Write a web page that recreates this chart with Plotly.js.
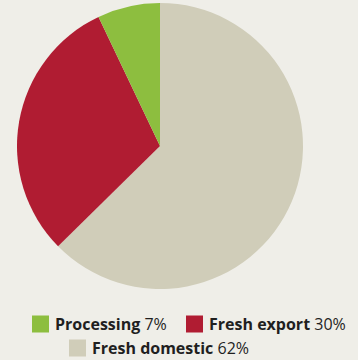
<!DOCTYPE html>
<html>
<head>
<meta charset="utf-8">
<script src="https://cdn.plot.ly/plotly-3.0.1.min.js"></script>
<style>html,body{margin:0;padding:0;background:#efeee8;}#chart{width:358px;height:360px;}</style>
</head>
<body>
<div id="chart"></div>
<script>
// Data
const labels = ["Fresh domestic", "Fresh export", "Processing"];
const values = [62, 30, 7];
const colors = ["#d0cdb9", "#b01c32", "#8dbe3f"];
// Legend order and rows
const legendOrder = [2, 1, 0];

const W = 358, H = 360;
const trace = {
  type: "pie",
  labels: labels,
  values: values,
  sort: false,
  direction: "clockwise",
  rotation: 0,
  marker: {colors: colors, line: {width: 0}},
  textinfo: "none",
  hoverinfo: "label+percent",
  showlegend: false,
  domain: {x: [17 / W, 303 / W], y: [1 - 289 / H, 1 - 3 / H]}
};

// Custom legend: positions for each entry (square left x, center y)
const legendPos = [
  {x: 32, y: 324},
  {x: 186, y: 324},
  {x: 69, y: 348}
];
const shapes = [], annotations = [];
legendOrder.forEach((idx, i) => {
  const p = legendPos[i];
  shapes.push({
    type: "rect", xref: "paper", yref: "paper",
    x0: p.x / W, x1: (p.x + 17) / W,
    y0: 1 - (p.y + 8.5) / H, y1: 1 - (p.y - 8.5) / H,
    fillcolor: colors[idx], line: {width: 0}
  });
  annotations.push({
    xref: "paper", yref: "paper",
    x: (p.x + 21) / W, y: 1 - p.y / H,
    xanchor: "left", yanchor: "middle",
    showarrow: false,
    text: "<b>" + labels[idx] + "</b> " + values[idx] + "%",
    font: {family: "'Open Sans', sans-serif", size: 16, color: "#1f1f1f"}
  });
});

const layout = {
  width: W, height: H,
  margin: {l: 0, r: 0, t: 0, b: 0},
  paper_bgcolor: "#efeee8",
  plot_bgcolor: "#efeee8",
  shapes: shapes,
  annotations: annotations
};
Plotly.newPlot("chart", [trace], layout, {displayModeBar: false, staticPlot: true});
</script>
</body>
</html>
